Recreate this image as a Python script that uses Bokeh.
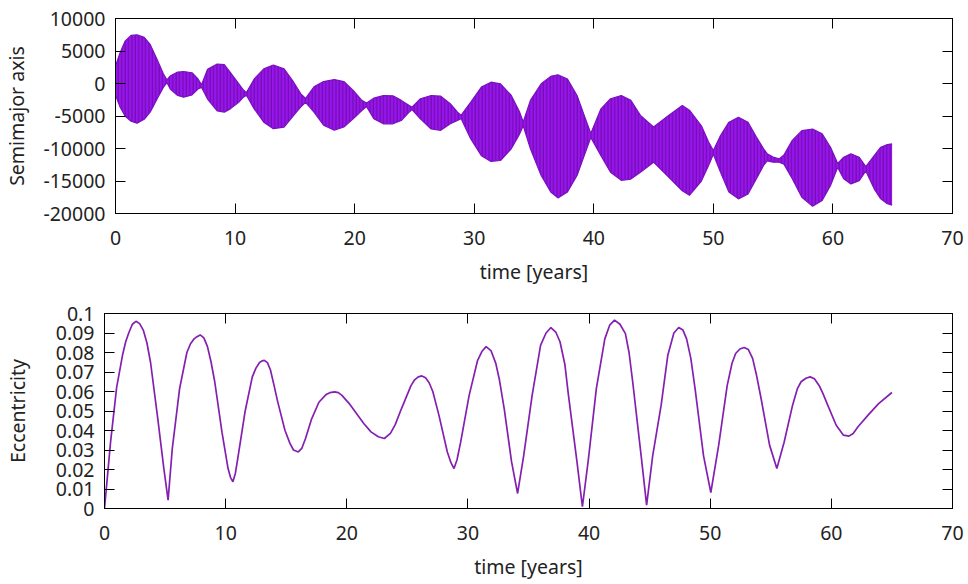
from bokeh.plotting import figure
from bokeh.models import FixedTicker, LinearAxis, Range1d, ColumnDataSource
from bokeh.embed import file_html
from bokeh.resources import INLINE

# ---------------- data ----------------
# Semimajor axis: envelope of the rapidly oscillating signal
semi_t = [0.0, 0.4, 0.8, 1.3, 1.8, 2.4, 2.9, 3.5, 4.0, 4.3,
          4.6, 5.2, 5.7, 6.4, 6.9, 7.2,
          7.7, 8.5, 9.1, 9.6, 10.3, 10.7, 10.95,
          11.6, 12.4, 13.2, 14.1, 14.9, 15.5, 15.9,
          16.6, 17.4, 18.3, 19.1, 19.9, 20.6, 21.0,
          21.6, 22.4, 23.2, 23.9, 24.5, 24.8,
          25.5, 26.4, 27.2, 28.0, 28.6, 28.9,
          29.7, 30.6, 31.4, 32.2, 33.1, 33.8, 34.1,
          34.7, 35.6, 36.4, 37.0, 37.8, 38.6, 39.3, 39.75,
          40.6, 41.4, 42.3, 43.1, 43.9, 45.0, 46.2, 47.4, 48.0, 49.0, 49.6, 50.0,
          50.6, 51.3, 52.1, 52.9, 53.6, 54.2,
          54.5, 55.0, 55.5, 55.9,
          56.6, 57.4, 58.3, 59.1, 59.8, 60.4,
          60.9, 61.5, 62.2, 62.75,
          63.45, 64.0, 64.55, 64.95]
semi_upper = [2700, 4800, 6500, 7400, 7500, 7100, 6000, 3600, 1500, 550,
              1200, 1750, 1850, 1650, 700, -200,
              2200, 3000, 2900, 1700, 0, -1000, -1400,
              700, 2250, 2850, 2250, 200, -1600, -2300,
              -500, 300, 600, 300, -1100, -2600, -3000,
              -2250, -1850, -1900, -2600, -3300, -3650,
              -2350, -1850, -1950, -3100, -4400, -4900,
              -2900, -550, 200, -50, -1850, -4400, -5900,
              -2600, -50, 1100, 1350, 700, -1850, -5400, -7700,
              -3900, -2350, -1850, -2600, -4900, -6700, -5000, -3400, -4100, -6500, -9000, -10300,
              -8000, -5950, -5200, -5950, -8250, -10050,
              -10800, -11300, -11600, -11000,
              -8750, -7250, -7000, -7750, -9800, -12300,
              -11350, -10800, -11350, -12800,
              -11100, -9800, -9400, -9300]
semi_lower = [-1800, -3700, -5000, -5800, -6100, -5500, -4400, -2300, -600, 150,
              -900, -1850, -2100, -1750, -850, -600,
              -2400, -4200, -4400, -3900, -2900, -2100, -1800,
              -3900, -5950, -6950, -6700, -4900, -3600, -2900,
              -4400, -6400, -7200, -6700, -5400, -4150, -3550,
              -5400, -6200, -6200, -5700, -4500, -4000,
              -5450, -7000, -7200, -6200, -5700, -5400,
              -8500, -11100, -12000, -11850, -10050, -7750, -6500,
              -10050, -14150, -16700, -17600, -16700, -14150, -10600, -8300,
              -11100, -13650, -14900, -14700, -13650, -12100, -14300, -16500, -17200, -15000, -12600, -10900,
              -13650, -16700, -17750, -17000, -14650, -12600,
              -11900, -12100, -12100, -12400,
              -14650, -17500, -18900, -18000, -15700, -12900,
              -14650, -15450, -14950, -13450,
              -16200, -17750, -18500, -18700]

# Eccentricity
ecc_t = [0.0, 0.25, 0.5, 1.0, 1.5, 1.75, 2.0, 2.3, 2.6, 2.9, 3.2, 3.5, 3.8, 4.4, 4.9, 5.25,
         5.6, 6.2, 6.8, 7.1, 7.4, 7.6, 7.9, 8.2, 8.5, 8.8, 9.1, 9.7, 10.2, 10.4, 10.6, 10.8,
         11.0, 11.6, 12.2, 12.5, 12.8, 13.0, 13.2, 13.45, 13.7, 14.0, 14.3, 14.9, 15.3, 15.6, 16.0,
         16.3, 16.6, 17.1, 17.7, 18.3, 18.6, 19.0, 19.3, 19.6, 20.2, 20.8, 21.4, 22.0, 22.6, 23.1,
         23.6, 24.0, 24.5, 25.3, 25.6, 25.9, 26.2, 26.5, 26.8, 27.1, 27.6, 28.3, 28.6, 28.85,
         29.1, 29.4, 30.1, 30.8, 31.15, 31.5, 31.9, 32.3, 32.6, 33.0, 33.6, 34.1,
         34.6, 35.3, 36.0, 36.45, 36.85, 37.25, 37.6, 38.0, 38.3, 39.0, 39.45,
         39.95, 40.6, 41.3, 41.7, 42.1, 42.55, 43.0, 43.3, 43.6, 44.3, 44.75,
         45.25, 45.95, 46.5, 47.0, 47.4, 47.75, 48.05, 48.4, 48.75, 49.45, 50.05,
         50.7, 51.4, 51.8, 52.1, 52.45, 52.8, 53.15, 53.5, 53.8, 54.2, 54.9, 55.5,
         56.1, 56.8, 57.2, 57.5, 57.9, 58.25, 58.6, 59.0, 59.3, 59.7, 60.4, 61.0, 61.45,
         61.8, 62.2, 63.05, 63.9, 65.0]
ecc = [0.0, 0.017, 0.034, 0.062, 0.079, 0.0855, 0.090, 0.0945, 0.096, 0.0948, 0.0915, 0.085, 0.075, 0.046, 0.0205, 0.0043,
       0.031, 0.0615, 0.080, 0.0845, 0.087, 0.088, 0.089, 0.0875, 0.083, 0.075, 0.065, 0.039, 0.0205, 0.016, 0.0137, 0.018,
       0.0256, 0.0496, 0.0675, 0.072, 0.0749, 0.0757, 0.076, 0.0748, 0.071, 0.063, 0.0547, 0.040, 0.0335, 0.030, 0.029,
       0.031, 0.036, 0.046, 0.0545, 0.0585, 0.0594, 0.0598, 0.0594, 0.058, 0.0538, 0.0487, 0.0436, 0.0393, 0.0368, 0.0359,
       0.0385, 0.043, 0.051, 0.063, 0.066, 0.0675, 0.068, 0.067, 0.0645, 0.060, 0.048, 0.029, 0.0235, 0.0205,
       0.025, 0.034, 0.058, 0.076, 0.0805, 0.083, 0.081, 0.0744, 0.066, 0.051, 0.024, 0.0077,
       0.027, 0.058, 0.0838, 0.090, 0.0928, 0.0905, 0.0855, 0.074, 0.058, 0.024, 0.0009,
       0.0256, 0.0615, 0.087, 0.094, 0.0966, 0.0945, 0.0897, 0.080, 0.065, 0.027, 0.0017,
       0.027, 0.053, 0.0786, 0.090, 0.0928, 0.0915, 0.087, 0.077, 0.0615, 0.027, 0.0082,
       0.0325, 0.063, 0.0745, 0.0795, 0.0818, 0.0826, 0.0815, 0.077, 0.069, 0.0564, 0.0325, 0.0205,
       0.034, 0.053, 0.0615, 0.065, 0.0668, 0.0675, 0.0665, 0.063, 0.059, 0.053, 0.0427, 0.0376, 0.0371,
       0.0385, 0.0419, 0.048, 0.0538, 0.0595]

x_ticks = [0, 10, 20, 30, 40, 50, 60, 70]
x_labels = ["0", "10", "20", "30", "40", "50", "60", "70"]
semi_ticks = [-20000, -15000, -10000, -5000, 0, 5000, 10000]
semi_labels = ["-20000", "-15000", "-10000", "-5000", "0", "5000", "10000"]
ecc_ticks = [0.0, 0.01, 0.02, 0.03, 0.04, 0.05, 0.06, 0.07, 0.08, 0.09, 0.1]
ecc_labels = ["0", "0.01", "0.02", "0.03", "0.04", "0.05", "0.06", "0.07", "0.08", "0.09", "0.1"]

FONT = "Noto Sans"
FS = "19.5px"
PURPLE = "#9a14ee"


def make_fig(height, b_left, b_top, b_bottom, yr, yticks, ylabels, ylabel,
             ylab_standoff):
    p = figure(width=968, height=height, output_backend="svg", toolbar_location=None,
               x_range=Range1d(0, 70), y_range=Range1d(*yr),
               min_border_left=b_left, min_border_right=16,
               min_border_top=b_top, min_border_bottom=b_bottom,
               background_fill_color="white", border_fill_color="white",
               outline_line_color="black", outline_line_width=1, outline_line_alpha=1)
    p.grid.visible = False
    p.xaxis.ticker = FixedTicker(ticks=x_ticks)
    p.xaxis.major_label_overrides = dict(zip(x_ticks, x_labels))
    p.yaxis.ticker = FixedTicker(ticks=yticks)
    p.yaxis.major_label_overrides = dict(zip(yticks, ylabels))
    p.xaxis.axis_label = "time [years]"
    p.yaxis.axis_label = ylabel
    for ax in p.xaxis + p.yaxis:
        ax.axis_line_color = "black"
        ax.major_tick_line_color = "black"
        ax.major_tick_in = 10
        ax.major_tick_out = 0
        ax.minor_tick_line_color = None
        ax.major_label_text_font = FONT
        ax.major_label_text_font_size = FS
        ax.major_label_text_color = "#222222"
        ax.axis_label_text_font = FONT
        ax.axis_label_text_font_size = FS
        ax.axis_label_text_font_style = "normal"
        ax.axis_label_text_color = "#222222"
    p.xaxis.major_label_standoff = 17
    p.xaxis.axis_label_standoff = 10
    p.yaxis.major_label_standoff = 10
    p.yaxis.axis_label_standoff = ylab_standoff
    # mirrored ticks on top and right (gnuplot style), labels not drawn
    top = LinearAxis(ticker=FixedTicker(ticks=x_ticks), major_tick_in=10, major_tick_out=0,
                     minor_tick_line_color=None, major_label_text_font_size="1px",
                     major_label_text_color=None, major_label_standoff=0,
                     axis_line_color="black")
    right = LinearAxis(ticker=FixedTicker(ticks=yticks), major_tick_in=10, major_tick_out=0,
                       minor_tick_line_color=None, major_label_text_font_size="1px",
                       major_label_text_color=None, major_label_standoff=0,
                       axis_line_color="black")
    p.add_layout(top, "above")
    p.add_layout(right, "right")
    return p


p1 = make_fig(292, 115, 18, 79, (-20000, 10000), semi_ticks, semi_labels,
              "Semimajor axis", 10)
src1 = ColumnDataSource(dict(t=semi_t, up=semi_upper, lo=semi_lower))
p1.varea(x="t", y1="lo", y2="up", source=src1, fill_color=PURPLE, fill_alpha=1,
         hatch_pattern="vertical_line", hatch_color="#3a0660", hatch_alpha=0.55,
         hatch_scale=3.4, hatch_weight=1)
p1.line(x="t", y="up", source=src1, line_color="#7a10c0", line_width=1.2)
p1.line(x="t", y="lo", source=src1, line_color="#7a10c0", line_width=1.2)

p2 = make_fig(292, 104, 21, 76, (0, 0.1), ecc_ticks, ecc_labels,
              "Eccentricity", 22)
src2 = ColumnDataSource(dict(t=ecc_t, e=ecc))
p2.line(x="t", y="e", source=src2, line_color="#8420b0", line_width=1.7)

open("out.html", "w").write(file_html([p1, p2], INLINE))
